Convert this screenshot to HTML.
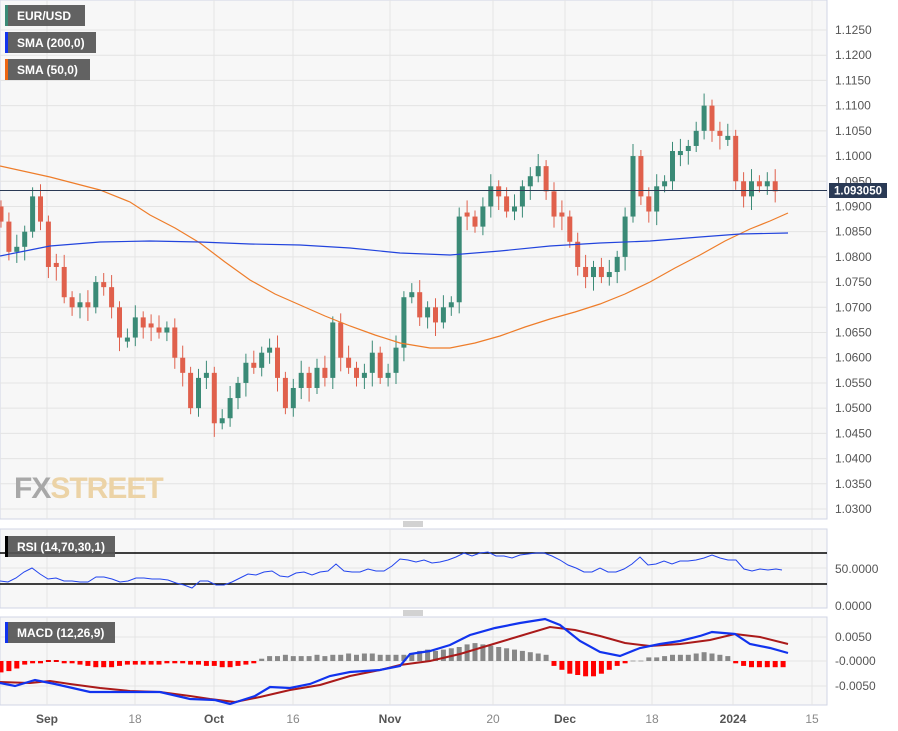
<!DOCTYPE html><html><head><meta charset="utf-8"><style>
body{margin:0;background:#fff;font-family:"Liberation Sans",sans-serif}
svg{display:block}
</style></head><body>
<svg id="s" width="898" height="731" xmlns="http://www.w3.org/2000/svg" font-family="Liberation Sans, sans-serif"></svg>
<script>
const S=document.getElementById('s');let h='';
const W=827;
h+=`<rect x="0" y="0" width="${W}" height="519" fill="#f7f7f7" stroke="#d0d6e6"/>`;
h+=`<rect x="0" y="529" width="${W}" height="79" fill="#f7f7f7" stroke="#d0d6e6"/>`;
h+=`<rect x="0" y="617" width="${W}" height="88" fill="#f7f7f7" stroke="#d0d6e6"/>`;
const vx=[47,135,214,293,390,493,565,652,733,812];
const py=p=>30+(1.125-p)/0.005*25.21;
let g='';
for(let i=0;i<20;i++){let y=30+i*25.21;g+=`<line x1="0" x2="${W}" y1="${y}" y2="${y}" stroke="#e4e4e4"/>`;
h+=`<text x="835" y="${y+4}" font-size="12" fill="#555">${(1.125-i*0.005).toFixed(4)}</text>`;}
vx.forEach(x=>{g+=`<line x1="${x}" x2="${x}" y1="0" y2="519" stroke="#e4e4e4"/><line x1="${x}" x2="${x}" y1="529" y2="608" stroke="#e4e4e4"/><line x1="${x}" x2="${x}" y1="617" y2="705" stroke="#e4e4e4"/>`});
[568].forEach(y=>g+=`<line x1="0" x2="${W}" y1="${y}" y2="${y}" stroke="#e4e4e4"/>`);
[637,661,686].forEach(y=>g+=`<line x1="0" x2="${W}" y1="${y}" y2="${y}" stroke="#e4e4e4"/>`);
h+=g;
[["Sep",47,1],["18",135,0],["Oct",214,1],["16",293,0],["Nov",390,1],["20",493,0],["Dec",565,1],["18",652,0],["2024",733,1],["15",812,0]].forEach(a=>h+=`<text x="${a[1]}" y="723" font-size="12" text-anchor="middle" fill="${a[2]?'#555':'#888'}" font-weight="${a[2]?'bold':'normal'}">${a[0]}</text>`);
h+=`<text x="14" y="498" font-size="30" font-weight="bold" fill="#a8a8a8" letter-spacing="-1">FX<tspan fill="#ecd3a6">STREET</tspan></text>`;
const c=[1.0870,1.0810,1.0820,1.0850,1.0920,1.0870,1.0780,1.0780,1.0720,1.0700,1.0710,1.0700,1.0750,1.0740,1.0700,1.0640,1.0640,1.0680,1.0660,1.0660,1.0650,1.0660,1.0600,1.0570,1.0500,1.0560,1.0570,1.0470,1.0480,1.0520,1.0550,1.0590,1.0580,1.0610,1.0620,1.0560,1.0500,1.0540,1.0570,1.0540,1.0580,1.0560,1.0670,1.0600,1.0580,1.0560,1.0570,1.0610,1.0560,1.0570,1.0620,1.0720,1.0730,1.0680,1.0700,1.0670,1.0700,1.0710,1.0880,1.0880,1.0860,1.0900,1.0940,1.0920,1.0890,1.0900,1.0940,1.0960,1.0980,1.0930,1.0880,1.0880,1.0830,1.0780,1.0760,1.0780,1.0760,1.0770,1.0800,1.0880,1.1000,1.0920,1.0890,1.0940,1.0950,1.1010,1.1010,1.1020,1.1050,1.1100,1.1050,1.1040,1.1040,1.0950,1.0920,1.0950,1.0940,1.0950,1.0930];
let prev=1.0900;
c.forEach((cl,i)=>{const x=i*7.9+1;let op=prev;if(Math.abs(op-cl)<0.0005)op=cl+(i%2?0.0008:-0.0008);
const up=cl>=op;const col=up?'#3a8a76':'#e0604c';const hi=Math.max(op,cl)+0.0012+(i%3)*0.0006,lo=Math.min(op,cl)-0.0012-(i%4)*0.0005;
h+=`<line x1="${x}" x2="${x}" y1="${py(hi)}" y2="${py(lo)}" stroke="${col}"/>`;
const y1=py(Math.max(op,cl)),y2=py(Math.min(op,cl));h+=`<rect x="${x-2.5}" y="${y1}" width="5" height="${Math.max(1,y2-y1)}" fill="${col}"/>`;prev=cl;});
const pl=(pts,col,w)=>`<polyline fill="none" stroke="${col}" stroke-width="${w}" points="${pts.map(p=>p.join(',')).join(' ')}"/>`;
h+=pl([[0,166],[50,177],[100,190],[130,202],[150,215],[175,228],[200,243],[225,262],[250,280],[275,294],[300,305],[325,316],[350,326],[375,335],[400,343],[430,348],[450,348],[475,343],[500,336],[525,327],[550,319],[575,312],[600,304],[625,294],[650,282],[675,268],[700,255],[725,241],[750,229],[770,221],[788,213]],'#ee7d2a',1.2);
h+=pl([[0,256],[25,251],[50,246],[75,244],[100,242],[150,241],[200,242],[250,244],[300,245],[350,248],[400,253],[450,255],[500,251],[550,246],[600,243],[650,241],[700,237],[740,234],[788,233]],'#2244dd',1.2);
h+=`<line x1="0" x2="${W}" y1="190.5" y2="190.5" stroke="#2a3a55"/>`;
h+=`<rect x="829" y="183" width="58" height="15" fill="#2a3a55"/><text x="858" y="194.5" font-size="11.5" font-weight="bold" fill="#fff" text-anchor="middle">1.093050</text>`;
const leg=(y,t,col,w)=>`<rect x="5" y="${y}" width="${w}" height="21" fill="#555" opacity="0.92"/><rect x="5" y="${y}" width="3" height="21" fill="${col}"/><text x="17" y="${y+15}" font-size="12" font-weight="bold" fill="#fff">${t}</text>`;
h+=leg(5,'EUR/USD','#3a8a76',80)+leg(32,'SMA (200,0)','#1133ee',91)+leg(59,'SMA (50,0)','#ee6611',85);
h+=`<text x="835" y="573" font-size="12" fill="#555">50.0000</text><text x="835" y="610" font-size="12" fill="#555">0.0000</text>`;
h+=`<line x1="0" x2="${W}" y1="553" y2="553" stroke="#000" stroke-width="1.6"/><line x1="0" x2="${W}" y1="584" y2="584" stroke="#000" stroke-width="1.6"/>`;
h+=pl([[0,581],[8,582],[16,578],[24,572],[32,568],[40,574],[48,579],[56,578],[64,581],[72,581],[80,582],[88,582],[96,577],[104,577],[112,579],[120,582],[128,581],[136,578],[144,578],[152,579],[160,579],[168,580],[176,583],[184,585],[192,588],[200,581],[208,581],[216,585],[224,585],[232,582],[240,578],[248,574],[256,575],[264,572],[272,571],[280,576],[288,577],[296,573],[304,572],[312,575],[320,572],[328,571],[336,564],[344,571],[352,572],[360,572],[368,569],[376,571],[384,571],[392,566],[400,559],[408,560],[416,562],[424,560],[432,563],[440,562],[448,560],[456,557],[464,553],[472,556],[480,553],[488,552],[496,556],[504,556],[512,558],[520,555],[528,554],[536,553],[544,553],[552,556],[560,560],[568,565],[576,568],[584,572],[592,572],[600,568],[608,572],[616,572],[624,569],[632,564],[640,557],[648,565],[656,564],[664,561],[672,564],[680,561],[688,561],[696,560],[704,558],[712,555],[720,558],[728,560],[736,560],[744,569],[752,571],[760,569],[768,570],[776,569],[782,570]],'#2244ee',1);
h+=leg(536,'RSI (14,70,30,1)','#000',110);
h+=`<text x="835" y="641" font-size="12" fill="#555">0.0050</text><text x="835" y="665" font-size="12" fill="#555">-0.0000</text><text x="835" y="690" font-size="12" fill="#555">-0.0050</text>`;
const hist=[-8,-7,-5,-2,-1,-1,0,0,-1,-1,-2,-3,-4,-4,-4,-3,-2,-2,-2,-2,-2,-1,-1,-1,-2,-2,-3,-3,-4,-4,-3,-2,-1,1,3,3,4,3,3,3,4,3,4,4,5,4,5,5,4,4,4,4,5,7,8,7,8,9,10,12,13,12,11,10,9,8,7,6,5,4,-3,-6,-9,-10,-11,-11,-9,-6,-3,-1,0,0,2,2,3,4,4,4,5,6,5,4,3,-1,-3,-4,-4,-4,-4,-4];
hist.forEach((v,i)=>{const x=i*7.9+1;if(v==0){h+=`<rect x="${x-2.5}" y="660" width="5" height="2" fill="${i>70?'#ccc':'#ee0000'}"/>`;return;}
const hh=Math.abs(v)*1.3+1;const col=v>0?'#888':'#ff0000';h+=`<rect x="${x-2.5}" y="${v>0?661-hh:661}" width="5" height="${hh}" fill="${col}"/>`;});
h+=pl([[0,682],[30,683],[50,681],[70,684],[100,688],[130,691],[160,692],[190,696],[210,699],[235,702],[260,697],[290,690],[320,685],[350,676],[380,670],[400,665],[430,661],[460,654],[490,645],[520,636],[550,627],[575,630],[600,636],[625,643],[650,646],[680,644],[710,640],[735,634],[760,637],[788,644]],'#aa1a1a',2);
h+=pl([[0,683],[15,686],[35,680],[55,684],[90,692],[120,692],[160,692],[190,699],[215,700],[230,704],[255,696],[270,687],[290,688],[310,684],[330,676],[350,672],[380,670],[400,666],[410,654],[430,651],[450,645],[470,635],[495,628],[520,623],[545,619],[560,625],[580,641],[600,652],[620,656],[640,648],[660,644],[680,641],[700,636],[712,632],[735,634],[750,644],[770,648],[788,653]],'#1133ee',2.2);
h+=leg(622,'MACD (12,26,9)','#1133ee',110);
[524,613].forEach(y=>{for(let k=0;k<3;k++)h+=`<line x1="403" x2="423" y1="${y-2+k*2}" y2="${y-2+k*2}" stroke="#888" stroke-width="0.8"/>`});
S.innerHTML=h;
</script></body></html>
